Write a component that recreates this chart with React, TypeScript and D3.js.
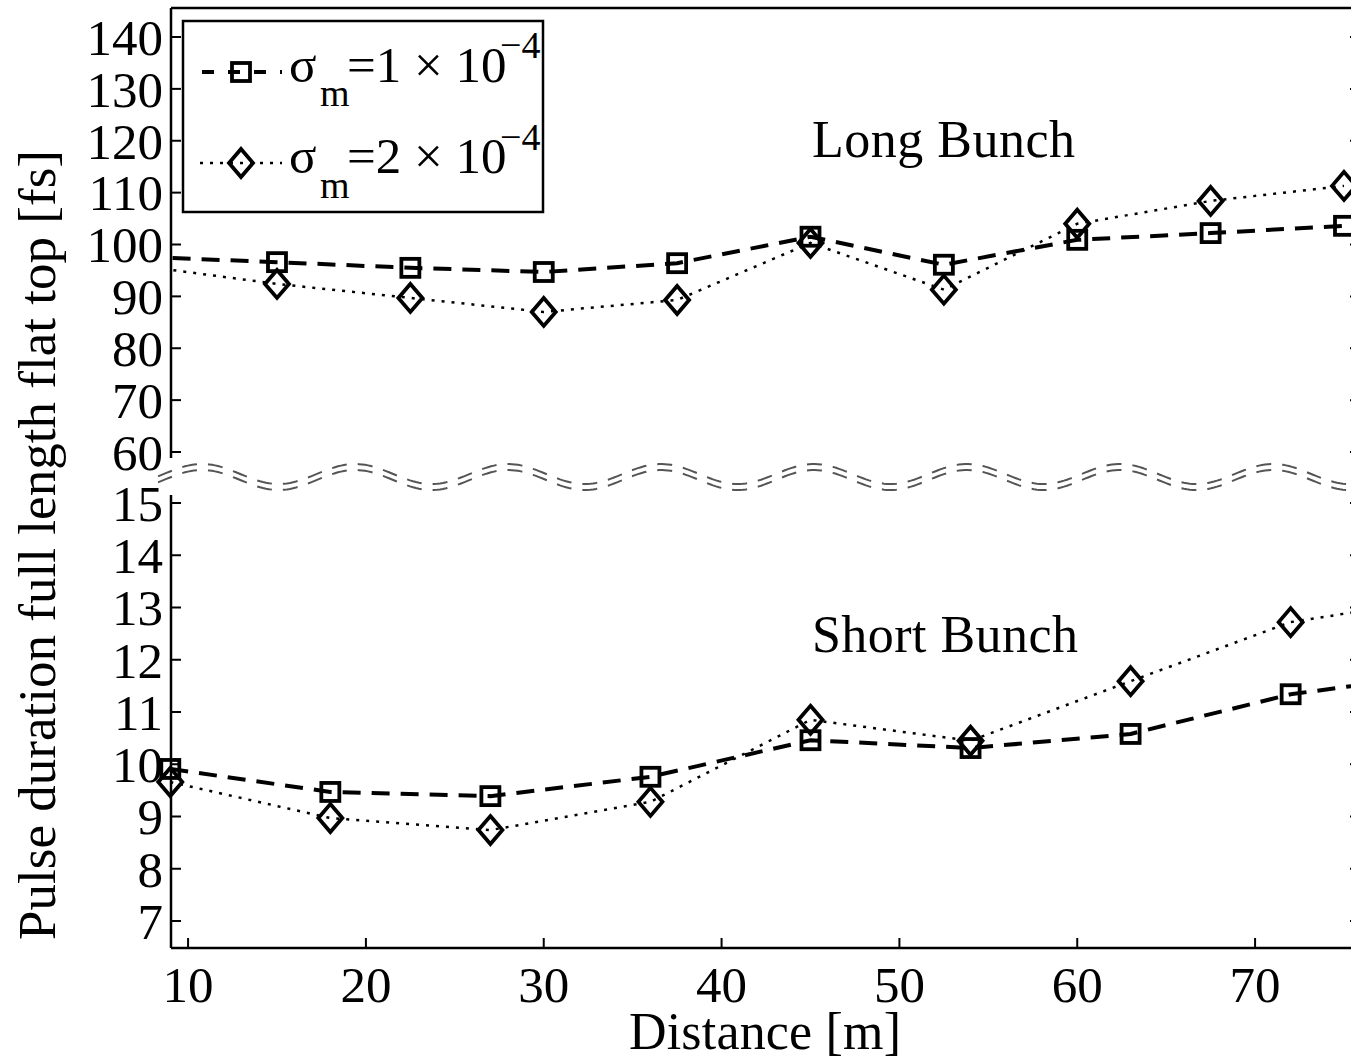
import React from 'react';
import * as d3 from 'd3';

// long bunch (upper panel), distance in m
const longX = [7.5, 15, 22.5, 30, 37.5, 45, 52.5, 60, 67.5, 75];
const longSq = [97.6, 96.6, 95.5, 94.7, 96.4, 101.5, 96.1, 100.9, 102.2, 103.6];
const longDi = [95.8, 92.4, 89.7, 87.0, 89.3, 100.3, 91.3, 104.0, 108.4, 111.3];

// short bunch (lower panel)
const shortX = [9, 18, 27, 36, 45, 54, 63, 72, 81];
const shortSq = [9.91, 9.47, 9.39, 9.76, 10.46, 10.31, 10.58, 11.34, 11.75];
const shortDi = [9.66, 8.97, 8.74, 9.28, 10.85, 10.45, 11.59, 12.72, 13.2];

const xTicks = [10, 20, 30, 40, 50, 60, 70];
const upperTicks = [60, 70, 80, 90, 100, 110, 120, 130, 140];
const lowerTicks = [7, 8, 9, 10, 11, 12, 13, 14, 15];

const W = 1351;
const H = 1057;
const left = 171;
const right = 1360;
const top = 8;
const bottom = 948;
const upperBottom = 458;
const lowerTop = 495;

const FONT = '"Liberation Serif", "Times New Roman", serif';
const FS = 51;

const x = d3.scaleLinear().domain([9.04, 75.9]).range([left, right]);
const yUp = d3.scaleLinear().domain([60, 140]).range([452, 37]);
const yLo = d3.scaleLinear().domain([7, 15]).range([921, 503]);

const DASH = '18,11';
const DOT = '3,7';

const Square = ({ cx, cy }: { cx: number; cy: number }) => (
  <rect x={cx - 9} y={cy - 9} width={18} height={18} fill="none" stroke="#000" strokeWidth={3.8} />
);

const Diamond = ({ cx, cy }: { cx: number; cy: number }) => (
  <path
    d={`M${cx},${cy - 14}L${cx + 12},${cy}L${cx},${cy + 14}L${cx - 12},${cy}Z`}
    fill="none"
    stroke="#000"
    strokeWidth={3.8}
  />
);

const App = () => {
  const lineUp = (vals: number[]) =>
    d3.line<number>().x((_, i) => x(longX[i])).y(d => yUp(d))(vals) || '';
  const lineLo = (vals: number[]) =>
    d3.line<number>().x((_, i) => x(shortX[i])).y(d => yLo(d))(vals) || '';

  const inDomain = (v: number) => v >= 9 && v <= 75.9;

  // wavy double line for the axis break
  const wave = (off: number) => {
    const pts: [number, number][] = d3.range(158, 1362, 3).map(px => [
      px,
      477 + off - 10 * Math.cos((2 * Math.PI * (px - 355)) / 153),
    ]);
    return d3.line()(pts) || '';
  };

  return (
    <svg
      width={W}
      height={H}
      style={{ position: 'absolute', left: 0, top: 0, background: '#fff' }}
      fontFamily={FONT}
    >
      <defs>
        <clipPath id="clipUp">
          <rect x={left} y={top} width={right - left} height={upperBottom - top} />
        </clipPath>
        <clipPath id="clipLo">
          <rect x={left} y={lowerTop} width={right - left} height={bottom - lowerTop} />
        </clipPath>
      </defs>

      {/* frame */}
      <line x1={left} x2={right} y1={top} y2={top} stroke="#000" strokeWidth={2.5} />
      <line x1={left} x2={right} y1={bottom} y2={bottom} stroke="#000" strokeWidth={2.5} />
      <line x1={left} x2={left} y1={top} y2={upperBottom} stroke="#000" strokeWidth={2.5} />
      <line x1={left} x2={left} y1={lowerTop} y2={bottom} stroke="#000" strokeWidth={2.5} />
      <line x1={right} x2={right} y1={top} y2={bottom} stroke="#000" strokeWidth={2.5} />

      {/* y ticks */}
      {upperTicks.map(t => (
        <g key={'u' + t}>
          <line x1={left} x2={left + 10} y1={yUp(t)} y2={yUp(t)} stroke="#000" strokeWidth={2} />
          <line x1={right - 10} x2={right} y1={yUp(t)} y2={yUp(t)} stroke="#000" strokeWidth={2} />
          <text x={163} y={yUp(t)} dy="0.35em" textAnchor="end" fontSize={FS}>{t}</text>
        </g>
      ))}
      {lowerTicks.map(t => (
        <g key={'l' + t}>
          <line x1={left} x2={left + 10} y1={yLo(t)} y2={yLo(t)} stroke="#000" strokeWidth={2} />
          <line x1={right - 10} x2={right} y1={yLo(t)} y2={yLo(t)} stroke="#000" strokeWidth={2} />
          <text x={163} y={yLo(t)} dy="0.35em" textAnchor="end" fontSize={FS}>{t}</text>
        </g>
      ))}

      {/* x ticks */}
      {xTicks.map(t => (
        <g key={'x' + t}>
          <line x1={x(t)} x2={x(t)} y1={bottom} y2={bottom - 10} stroke="#000" strokeWidth={2} />
          <text x={x(t)} y={1002} textAnchor="middle" fontSize={FS}>{t}</text>
        </g>
      ))}

      {/* axis break */}
      <path d={wave(-3)} fill="none" stroke="#555" strokeWidth={2} strokeDasharray="15,11" />
      <path d={wave(3)} fill="none" stroke="#555" strokeWidth={2} strokeDasharray="15,11" />

      {/* long bunch */}
      <g clipPath="url(#clipUp)">
        <path d={lineUp(longSq)} fill="none" stroke="#000" strokeWidth={4} strokeDasharray={DASH} />
        <path d={lineUp(longDi)} fill="none" stroke="#000" strokeWidth={2.5} strokeDasharray={DOT} />
      </g>
      {longX.map((v, i) =>
        inDomain(v) ? (
          <g key={'lm' + i}>
            <Square cx={x(v)} cy={yUp(longSq[i])} />
            <Diamond cx={x(v)} cy={yUp(longDi[i])} />
          </g>
        ) : null
      )}

      {/* short bunch */}
      <g clipPath="url(#clipLo)">
        <path d={lineLo(shortSq)} fill="none" stroke="#000" strokeWidth={4} strokeDasharray={DASH} />
        <path d={lineLo(shortDi)} fill="none" stroke="#000" strokeWidth={2.5} strokeDasharray={DOT} />
      </g>
      {shortX.map((v, i) =>
        inDomain(v) ? (
          <g key={'sm' + i}>
            <Square cx={x(v)} cy={yLo(shortSq[i])} />
            <Diamond cx={x(v)} cy={yLo(shortDi[i])} />
          </g>
        ) : null
      )}

      <text x={812} y={157} fontSize={52} textLength={263}>Long Bunch</text>
      <text x={812} y={652} fontSize={52} textLength={266}>Short Bunch</text>

      {/* legend */}
      <rect x={183} y={21} width={360} height={191} fill="#fff" stroke="#000" strokeWidth={2.5} />
      <line x1={200} x2={282} y1={72} y2={72} stroke="#000" strokeWidth={4} strokeDasharray="12,14" strokeDashoffset={-2} />
      <Square cx={241} cy={72} />
      <line x1={200} x2={282} y1={163} y2={163} stroke="#000" strokeWidth={2.5} strokeDasharray={DOT} />
      <Diamond cx={241} cy={163} />
      <g fontSize={FS}>
        <text x={289} y={82}>σ</text>
        <text x={320} y={106} fontSize={38}>m</text>
        <text x={347} y={82}>=1 × 10</text>
        <text x={500} y={58} fontSize={38}>−4</text>
        <text x={289} y={173}>σ</text>
        <text x={320} y={198} fontSize={38}>m</text>
        <text x={347} y={173}>=2 × 10</text>
        <text x={500} y={150} fontSize={38}>−4</text>
      </g>

      {/* axis labels */}
      <text x={765} y={1049} textAnchor="middle" fontSize={52} textLength={272}>Distance [m]</text>
      <text
        transform="translate(55,545) rotate(-90)"
        textAnchor="middle"
        fontSize={53}
        textLength={790}
      >
        Pulse duration full length flat top [fs]
      </text>
    </svg>
  );
};

export default App;
